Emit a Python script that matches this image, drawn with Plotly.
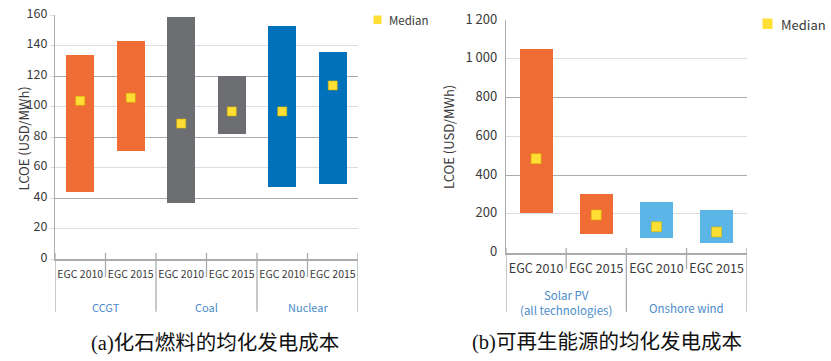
import plotly.graph_objects as go

# ---------------- data ----------------
left_groups = ["CCGT", "Coal", "Nuclear"]
left_editions = ["EGC 2010", "EGC 2015", "EGC 2010", "EGC 2015", "EGC 2010", "EGC 2015"]
left_low = [44, 71, 37, 82, 47, 49]
left_high = [134, 143, 159, 120, 153, 136]
left_median = [104, 106, 89, 97, 97, 114]
left_yticks = [0, 20, 40, 60, 80, 100, 120, 140, 160]

right_groups = ["Solar PV<br>(all technologies)", "Onshore wind"]
right_editions = ["EGC 2010", "EGC 2015", "EGC 2010", "EGC 2015"]
right_low = [206, 95, 76, 50]
right_high = [1050, 303, 260, 220]
right_median = [485, 195, 134, 107]
right_yticks = [0, 200, 400, 600, 800, 1000, 1200]
right_yticktext = ["0", "200", "400", "600", "800", "1 000", "1 200"]

y_title = "LCOE (USD/MWh)"
legend_label = "Median"
caption_a = "(a)化石燃料的均化发电成本"
caption_b = "(b)可再生能源的均化发电成本"

# ---------------- style ----------------
W, H = 831, 361
ORANGE = "#EF6C35"
GREY = "#6D6E71"
BLUE = "#0071BA"
LBLUE = "#5BB5E6"
YELLOW = "#FFDF34"
YEL_EDGE = "#D9B600"
GRID_LIGHT = "#DCDDDE"
GRID_DARK = "#A9ABAE"
AXIS = "#A9ABAE"
GROUP_TXT = "#4A8CC9"
TXT = "#3A3A3A"
FONT = "Noto Sans CJK SC, Roboto, sans-serif"
CAP_FONT = "Liberation Serif, Noto Sans CJK SC, serif"

left_colors = [ORANGE, ORANGE, GREY, GREY, BLUE, BLUE]
right_colors = [ORANGE, ORANGE, LBLUE, LBLUE]


def py(px):
    return 1 - px / H


fig = go.Figure()

lx = list(range(len(left_editions)))
rx = list(range(len(right_editions)))

fig.add_trace(go.Bar(x=lx, y=[h - l for h, l in zip(left_high, left_low)], base=left_low,
                     marker=dict(color=left_colors, line=dict(width=0)), width=0.55,
                     xaxis="x", yaxis="y", showlegend=False, hoverinfo="skip"))
fig.add_trace(go.Bar(x=rx, y=[h - l for h, l in zip(right_high, right_low)], base=right_low,
                     marker=dict(color=right_colors, line=dict(width=0)), width=0.55,
                     xaxis="x2", yaxis="y2", showlegend=False, hoverinfo="skip"))
# medians on overlaid axes (same ranges) that also carry the darker gridlines
fig.add_trace(go.Scatter(x=lx, y=left_median, mode="markers",
                         marker=dict(symbol="square", size=9, color=YELLOW,
                                     line=dict(color=YEL_EDGE, width=0.6)),
                         xaxis="x", yaxis="y3", showlegend=False))
fig.add_trace(go.Scatter(x=rx, y=right_median, mode="markers",
                         marker=dict(symbol="square", size=10, color=YELLOW,
                                     line=dict(color=YEL_EDGE, width=0.6)),
                         xaxis="x2", yaxis="y4", showlegend=False))

shapes = []
annotations = []

# category dividers (left)
n_left = len(left_editions)
for i in range(0, n_left + 1):
    xb = i - 0.5
    bottom = 311.7 if i % 2 == 0 else 277
    shapes.append(dict(type="line", xref="x", yref="paper", x0=xb, x1=xb,
                       y0=py(253), y1=py(bottom), line=dict(color=AXIS, width=1.3)))
# category dividers (right)
n_right = len(right_editions)
for i in range(0, n_right + 1):
    xb = i - 0.5
    bottom = 311.7 if i % 2 == 0 else 269.3
    shapes.append(dict(type="line", xref="x2", yref="paper", x0=xb, x1=xb,
                       y0=py(248), y1=py(bottom), line=dict(color=AXIS, width=1.3)))

# group labels
for gi, g in enumerate(left_groups):
    annotations.append(dict(text=g, xref="x", yref="paper", x=2 * gi + 0.5, y=py(307),
                            showarrow=False, font=dict(family=FONT, size=11, color=GROUP_TXT),
                            xanchor="center", yanchor="middle"))
annotations.append(dict(text=right_groups[0], xref="x2", yref="paper", x=0.5, y=py(302),
                        showarrow=False, font=dict(family=FONT, size=11.5, color=GROUP_TXT),
                        xanchor="center", yanchor="middle"))
annotations.append(dict(text=right_groups[1], xref="x2", yref="paper", x=2.5, y=py(308),
                        showarrow=False, font=dict(family=FONT, size=11.5, color=GROUP_TXT),
                        xanchor="center", yanchor="middle"))

# y titles
annotations.append(dict(text=y_title, xref="paper", yref="paper", x=11 / W, y=py(139),
                        textangle=-90, showarrow=False,
                        font=dict(family=FONT, size=13, color=TXT)))
annotations.append(dict(text=y_title, xref="paper", yref="paper", x=449 / W, y=py(137),
                        textangle=-90, showarrow=False,
                        font=dict(family=FONT, size=13, color=TXT)))

# legends
shapes.append(dict(type="rect", xref="paper", yref="paper", x0=373.5 / W, x1=381.5 / W,
                   y0=py(24), y1=py(15.5), fillcolor=YELLOW, line=dict(width=0)))
annotations.append(dict(text=legend_label, xref="paper", yref="paper", x=387 / W, y=py(20),
                        xanchor="left", yanchor="middle", showarrow=False,
                        font=dict(family=FONT, size=11.5, color=TXT)))
shapes.append(dict(type="rect", xref="paper", yref="paper", x0=762.5 / W, x1=772.5 / W,
                   y0=py(29), y1=py(18.5), fillcolor=YELLOW, line=dict(width=0)))
annotations.append(dict(text=legend_label, xref="paper", yref="paper", x=779 / W, y=py(24),
                        xanchor="left", yanchor="middle", showarrow=False,
                        font=dict(family=FONT, size=13, color=TXT)))

# captions
annotations.append(dict(text=caption_a, xref="paper", yref="paper", x=215 / W, y=py(343),
                        xanchor="center", yanchor="middle", showarrow=False,
                        font=dict(family=CAP_FONT, size=20.5, color="#111111")))
annotations.append(dict(text=caption_b, xref="paper", yref="paper", x=607 / W, y=py(342),
                        xanchor="center", yanchor="middle", showarrow=False,
                        font=dict(family=CAP_FONT, size=20.5, color="#111111")))

fig.update_layout(
    width=W, height=H,
    margin=dict(l=0, r=0, t=0, b=0, pad=0, autoexpand=False),
    paper_bgcolor="white", plot_bgcolor="white",
    showlegend=False,
    bargap=0,
    xaxis=dict(domain=[55 / W, 358 / W], range=[-0.5, n_left - 0.5],
               tickvals=lx, ticktext=left_editions, tickangle=0, automargin=False,
               showgrid=False, zeroline=False,
               showline=True, linecolor=AXIS, linewidth=2,
               ticks="outside", ticklen=4, tickcolor="rgba(0,0,0,0)",
               tickfont=dict(family=FONT, size=10.5, color=TXT), anchor="y"),
    yaxis=dict(domain=[py(259.3), py(15.3)], range=[0, 160], tickvals=left_yticks,
               automargin=False, ticklabelshift=-2,
               showgrid=True, gridcolor=GRID_LIGHT, gridwidth=1.3, zeroline=False,
               showline=True, linecolor=AXIS, linewidth=1.3,
               ticks="outside", ticklen=4, tickcolor=GRID_LIGHT,
               tickfont=dict(family=FONT, size=12.5, color=TXT), anchor="x"),
    yaxis3=dict(overlaying="y", range=[0, 160], tickvals=left_yticks[2::2],
                automargin=False,
                showgrid=True, gridcolor=GRID_DARK, gridwidth=1.3, zeroline=False,
                showline=False, showticklabels=False, ticks="", anchor="x", side="left"),
    xaxis2=dict(domain=[506 / W, 746.7 / W], range=[-0.5, n_right - 0.5],
                tickvals=rx, ticktext=right_editions, tickangle=0, automargin=False,
                showgrid=False, zeroline=False,
                showline=True, linecolor=AXIS, linewidth=2,
                ticks="outside", ticklen=3, tickcolor="rgba(0,0,0,0)",
                tickfont=dict(family=FONT, size=12.5, color=TXT), anchor="y2"),
    yaxis2=dict(domain=[py(252.7), py(20)], range=[0, 1200], tickvals=right_yticks,
                ticktext=right_yticktext, automargin=False, ticklabelshift=-1,
                showgrid=True, gridcolor=GRID_LIGHT, gridwidth=1.3, zeroline=False,
                showline=True, linecolor=AXIS, linewidth=1.3,
                ticks="outside", ticklen=5, tickcolor="rgba(0,0,0,0)",
                tickfont=dict(family=FONT, size=13, color=TXT), anchor="x2"),
    yaxis4=dict(overlaying="y2", range=[0, 1200], tickvals=right_yticks[2::2],
                automargin=False,
                showgrid=True, gridcolor=GRID_DARK, gridwidth=1.3, zeroline=False,
                showline=False, showticklabels=False, ticks="", anchor="x2", side="left"),
    shapes=shapes,
    annotations=annotations,
)

fig.write_html("out.html", config={"displayModeBar": False},
               post_script="document.body.style.margin='0';document.body.style.overflow='hidden';")
